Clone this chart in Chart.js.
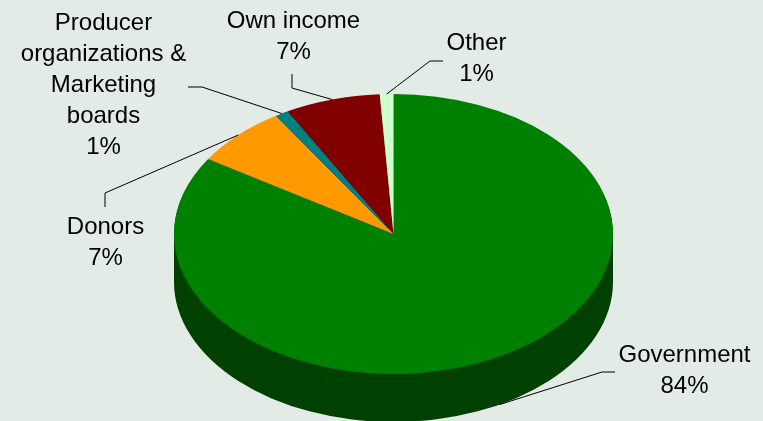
<!DOCTYPE html>
<html>
<head>
<meta charset="utf-8">
<script src="https://cdn.jsdelivr.net/npm/chart.js"></script>
<style>
  html, body { margin: 0; padding: 0; background: #E2EBE6; }
  #wrap { width: 763px; height: 421px; }
</style>
</head>
<body>
<div id="wrap"><canvas id="pie" width="763" height="421"></canvas></div>
<script>
// --- data ---
const categories = [
  ['Government'],
  ['Donors'],
  ['Producer', 'organizations &', 'Marketing', 'boards'],
  ['Own income'],
  ['Other']
];
const shares = [84, 7, 1, 7, 1];

// --- style ---
const topColors  = ['#008000', '#FF9900', '#008080', '#800000', '#CCFFCC'];
const sideColors = ['#004000', '#804C00', '#004040', '#400000', '#668066'];
const tilt = 140 / 219.5;   // vertical squash of the disc
const depth = 48;           // px, thickness of the disc

// label placement, offsets from pie centre: text centre, elbow, stub end
const labelLayout = [
  { tx: 291,  ty: 121,  ex: 208.5,  ey: 138,  sx: 221.5,  sy: 138,  bottom: true },
  { tx: -288, ty: -7,   ex: -288.5, ey: -41,  sx: -288.5, sy: -27 },
  { tx: -290, ty: -211, ex: -191.5, ey: -147, sx: -205.5, sy: -147 },
  { tx: -100, ty: -213, ex: -101.5, ey: -146, sx: -101.5, sy: -160 },
  { tx: 83,   ty: -191, ex: 36.5,   ey: -173, sx: 49.5,   sy: -173 }
];
const lineH = 31;

const pie3d = {
  id: 'pie3d',
  beforeDatasetsDraw(chart) {
    const ctx = chart.ctx;
    const arcs = chart.getDatasetMeta(0).data;
    const { x, y } = arcs[0];
    ctx.save();
    ctx.translate(x, y);
    ctx.scale(1, tilt);
    ctx.translate(-x, -y);
    // side wall: every slice swept downwards, filled once so no seams
    arcs.forEach((a, i) => {
      ctx.beginPath();
      for (let k = 1; k <= depth; k++) {
        const dy = k / tilt;
        ctx.moveTo(a.x, a.y + dy);
        ctx.arc(a.x, a.y + dy, a.outerRadius, a.startAngle, a.endAngle);
        ctx.closePath();
      }
      ctx.fillStyle = sideColors[i];
      ctx.fill('nonzero');
    });
  },
  afterDatasetsDraw(chart) {
    const ctx = chart.ctx;
    ctx.restore();
    const arcs = chart.getDatasetMeta(0).data;
    const total = shares.reduce((s, v) => s + v, 0);
    ctx.save();
    ctx.strokeStyle = '#000';
    ctx.lineWidth = 1;
    ctx.fillStyle = '#000';
    ctx.font = '24px "Liberation Sans", Arial, sans-serif';
    ctx.textAlign = 'center';
    ctx.textBaseline = 'middle';
    arcs.forEach((a, i) => {
      const L = labelLayout[i];
      const mid = (a.startAngle + a.endAngle) / 2;
      const px = a.x + a.outerRadius * Math.cos(mid);
      const py = a.y + a.outerRadius * tilt * Math.sin(mid) + (L.bottom ? depth : 0);
      ctx.beginPath();
      ctx.moveTo(px, py);
      ctx.lineTo(a.x + L.ex, a.y + L.ey);
      ctx.lineTo(a.x + L.sx, a.y + L.sy);
      ctx.stroke();
      const lines = categories[i].concat(Math.round(shares[i] / total * 100) + '%');
      lines.forEach((t, j) => ctx.fillText(t, a.x + L.tx, a.y + L.ty + j * lineH));
    });
    ctx.restore();
  }
};

new Chart(document.getElementById('pie'), {
  type: 'pie',
  data: {
    labels: categories.map(c => c.join(' ')),
    datasets: [{
      data: shares,
      backgroundColor: topColors,
      borderWidth: 0,
      radius: 219.5,
      clip: false
    }]
  },
  options: {
    responsive: false,
    animation: false,
    events: [],
    layout: { padding: { left: 24, right: 0, top: 47, bottom: 0 } },
    plugins: { legend: { display: false }, tooltip: { enabled: false } }
  },
  plugins: [pie3d]
});
</script>
</body>
</html>
